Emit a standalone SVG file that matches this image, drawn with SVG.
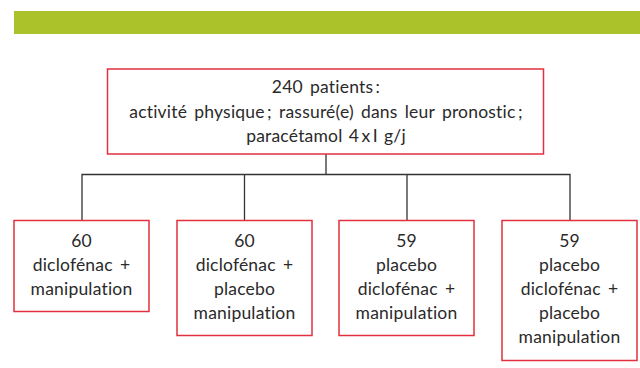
<svg xmlns="http://www.w3.org/2000/svg" width="640" height="368" viewBox="0 0 640 368">
<style>
.box{fill:#fff;stroke:#e2303e;stroke-width:1.5}
.t{font-family:Lato,"Open Sans","Liberation Sans",sans-serif;font-size:17.5px;fill:#2a2a2a;text-anchor:middle;word-spacing:2.5px;letter-spacing:0.2px;font-variant-ligatures:none}
.c{fill:none;stroke:#333;stroke-width:1.3}
</style>
<rect x="14" y="11" width="626" height="23" fill="#abc22b"/>
<g id="connectors">
<path class="c" d="M326 154V174.5M82 220.5V174.5H570V220.5M244.5 174.5V220.5M407 174.5V220.5"/>
</g>
<g id="root">
<rect class="box" x="107.5" y="69" width="436" height="85"/>
<text class="t"><tspan x="326" y="92.5">240 patients&#8201;:</tspan><tspan x="326" y="117.5">activité physique&#8201;; rassuré(e) dans leur pronostic&#8201;;</tspan><tspan x="326" y="142" style="word-spacing:1.5px">paracétamol 4&#8201;x&#8201;I g/j</tspan></text>
</g>
<g id="n1">
<rect class="box" x="14" y="220.5" width="135" height="91"/>
<text class="t"><tspan x="81.5" y="246.5">60</tspan><tspan x="81.5" y="270.5">diclofénac +</tspan><tspan x="81.5" y="295">manipulation</tspan></text>
</g>
<g id="n2">
<rect class="box" x="177" y="220.5" width="135" height="115"/>
<text class="t"><tspan x="244.5" y="246.5">60</tspan><tspan x="244.5" y="270.5">diclofénac +</tspan><tspan x="244.5" y="295">placebo</tspan><tspan x="244.5" y="319">manipulation</tspan></text>
</g>
<g id="n3">
<rect class="box" x="339" y="220.5" width="135" height="115"/>
<text class="t"><tspan x="406.5" y="246.5">59</tspan><tspan x="406.5" y="270.5">placebo</tspan><tspan x="406.5" y="295">diclofénac +</tspan><tspan x="406.5" y="319">manipulation</tspan></text>
</g>
<g id="n4">
<rect class="box" x="502" y="220.5" width="135" height="140"/>
<text class="t"><tspan x="569.5" y="246.5">59</tspan><tspan x="569.5" y="270.5">placebo</tspan><tspan x="569.5" y="295">diclofénac +</tspan><tspan x="569.5" y="319">placebo</tspan><tspan x="569.5" y="343">manipulation</tspan></text>
</g>
</svg>
